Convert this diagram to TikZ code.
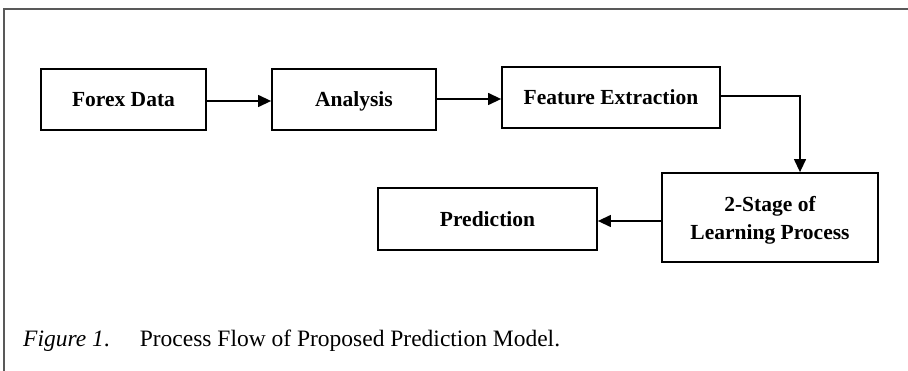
\documentclass[tikz,border=0pt]{standalone}
\usepackage{fontspec}
\setmainfont{Liberation Serif}
\usetikzlibrary{arrows.meta}
\begin{document}
\begin{tikzpicture}[x=1pt, y=-1pt,
        box/.style={draw, line width=1.8pt, fill=white, font=\fontsize{21.5}{28}\selectfont\bfseries, align=center, inner sep=0pt},
        oneline/.style={text height=16pt, text depth=1.5pt},
        arr/.style={line width=1.3pt, -{Triangle[length=13pt,width=12pt]}}]
        \useasboundingbox (0,0) rectangle (908,371);
        \draw[gray!70!black, line width=1.4pt] (908,9) -- (4,9) -- (4,371);
        \node[box, oneline, minimum width=165pt, minimum height=61pt] (forex) at (123.5,99.5) {Forex Data};
        \node[box, oneline, minimum width=164pt, minimum height=61pt] (anal) at (354,99.5) {Analysis};
        \node[box, oneline, minimum width=218pt, minimum height=61pt] (feat) at (611,97.5) {Feature Extraction};
        \node[box, text height=45pt, text depth=0pt, minimum width=216pt, minimum height=89pt] (stage) at (770,217.5) {2-Stage of\\Learning Process};
        \node[box, oneline, minimum width=219pt, minimum height=62pt] (pred) at (487.5,219) {Prediction};
        \draw[arr] ([yshift=-1.5pt]forex.east) -- ([yshift=-1.5pt]anal.west);
        \draw[arr] ([yshift=0.5pt]anal.east) -- ([yshift=0.5pt]anal.east -| feat.west);
        \draw[arr] ([yshift=1.5pt]feat.east) -| ([xshift=30pt]stage.north);
        \draw[arr] ([yshift=-3.5pt]stage.west) -- ([yshift=-3.5pt]stage.west -| pred.east);
        \node[anchor=base west, inner sep=0pt, font=\fontsize{23.5}{28}\selectfont] (cap) at (23,347)
            {\textit{Figure 1}.\hspace{30pt}Process Flow of Proposed Prediction Model.};
    \end{tikzpicture}
\end{document}
